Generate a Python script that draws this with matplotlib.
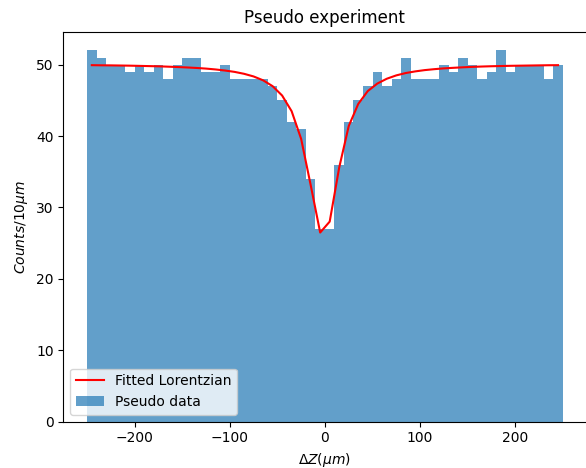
import numpy as np
import matplotlib
matplotlib.use("Agg")
import matplotlib.pyplot as plt

# histogram of the pseudo data, 10 um bins from -250 to 250
bin_edges = np.arange(-250, 251, 10)
counts = [52, 51, 50, 50, 49, 50, 49, 50, 48, 50,
          51, 51, 49, 49, 50, 48, 48, 48, 48, 47,
          45, 42, 41, 34, 27, 27, 36, 42, 45, 47,
          49, 47, 48, 51, 48, 48, 48, 50, 49, 51,
          50, 48, 49, 52, 49, 50, 50, 50, 48, 50]

fit_x = np.arange(-245, 250, 10)
fit_y = [49.93, 49.91, 49.90, 49.88, 49.86, 49.83, 49.80, 49.77, 49.72, 49.67,
         49.61, 49.54, 49.45, 49.33, 49.18, 48.99, 48.72, 48.35, 47.81, 46.99,
         45.68, 43.48, 39.60, 33.15, 26.49, 28.02, 35.60, 41.40, 44.50, 46.30,
         47.35, 48.03, 48.50, 48.83, 49.06, 49.24, 49.37, 49.48, 49.56, 49.63,
         49.69, 49.74, 49.78, 49.81, 49.84, 49.86, 49.88, 49.90, 49.92, 49.93]

fig = plt.figure(figsize=(5.86, 4.68), dpi=100)
ax = fig.add_axes([0.108, 0.099, 0.893, 0.833])

ax.bar(bin_edges[:-1], counts, width=10, align='edge', alpha=0.7, label='Pseudo data')
ax.plot(fit_x, fit_y, 'r-', label='Fitted Lorentzian')

ax.set_title('Pseudo experiment')
ax.set_xlabel(r'$\Delta Z(\mu m)$')
ax.set_ylabel(r'$Counts/10\mu m$')
ax.legend(loc='lower left')

fig.savefig('out.png', dpi=100)
